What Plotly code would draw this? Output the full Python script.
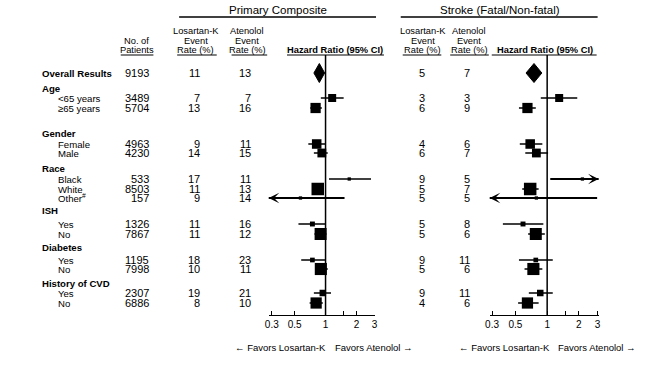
import math
import plotly.graph_objects as go

# ---------------- data ----------------
labels = ["Overall Results", "Age", "&lt;65 years", "≥65 years", "Gender", "Female", "Male",
          "Race", "Black", "White", "Other<sup>#</sup>", "ISH", "Yes", "No", "Diabetes", "Yes", "No",
          "History of CVD", "Yes", "No"]
row_kind = ["overall", "header", "sub", "sub", "header", "sub", "sub", "header", "sub", "sub", "sub",
            "header", "sub", "sub", "header", "sub", "sub", "header", "sub", "sub"]
patients = [9193, None, 3489, 5704, None, 4963, 4230, None, 533, 8503, 157, None, 1326, 7867,
            None, 1195, 7998, None, 2307, 6886]
pc_los = [11, None, 7, 13, None, 9, 14, None, 17, 11, 9, None, 11, 11, None, 18, 10, None, 19, 8]
pc_ate = [13, None, 7, 16, None, 11, 15, None, 11, 13, 14, None, 16, 12, None, 23, 11, None, 21, 10]
pc_hr = [0.87, None, 1.16, 0.80, None, 0.82, 0.92, None, 1.70, 0.84, 0.57, None, 0.745, 0.895,
         None, 0.745, 0.90, None, 0.94, 0.81]
pc_lo = [0.77, None, 0.90, 0.71, None, 0.68, 0.77, None, 1.08, 0.75, 0.20, None, 0.545, 0.78,
         None, 0.58, 0.80, None, 0.77, 0.70]
pc_hi = [0.98, None, 1.50, 0.92, None, 1.00, 1.05, None, 2.77, 0.94, 1.53, None, 1.00, 1.02,
         None, 1.00, 1.05, None, 1.13, 0.94]
st_los = [5, None, 3, 6, None, 4, 6, None, 9, 5, 5, None, 5, 5, None, 9, 5, None, 9, 4]
st_ate = [7, None, 3, 9, None, 6, 7, None, 5, 7, 5, None, 8, 6, None, 11, 6, None, 11, 6]
st_hr = [0.75, None, 1.30, 0.65, None, 0.69, 0.79, None, 2.16, 0.69, 0.79, None, 0.59, 0.78,
         None, 0.78, 0.74, None, 0.86, 0.65]
st_lo = [0.63, None, 0.87, 0.54, None, 0.55, 0.62, None, 1.07, 0.58, 0.20, None, 0.38, 0.66,
         None, 0.54, 0.61, None, 0.67, 0.53]
st_hi = [0.89, None, 1.93, 0.78, None, 0.90, 1.02, None, 4.00, 0.83, 2.98, None, 0.92, 0.95,
         None, 1.13, 0.90, None, 1.13, 0.83]
tick_vals = [0.3, 0.5, 1, 1.5, 2, 3]
tick_text = ["0.3", "0.5", "1", "", "2", "3"]

# ---------------- layout geometry (pixels) ----------------
W, H = 657, 368
AX_Y = 315                    # row of the hazard-ratio axes
HDR_Y = 55                    # header underline row
row_gaps = [73, 15, 10, 10, 25, 11, 9, 15, 11, 10, 9, 12, 14, 10, 13, 13, 9, 14, 10, 10]
row_y = []
cur = 0
for g in row_gaps:
    cur += g
    row_y.append(cur)

FONT = "Liberation Sans, Arial, sans-serif"
BLACK = "#000000"

# panel geometry: pixel of HR=1, pixels per decade, axis range
panels = [
    dict(xa="x", one=324.0, ppd=103.9, lo=0.28, hi=3.05),
    dict(xa="x2", one=548.0, ppd=106.5, lo=0.285, hi=3.08),
]
for p in panels:
    p["x0"] = p["one"] + math.log10(p["lo"]) * p["ppd"]
    p["x1"] = p["one"] + math.log10(p["hi"]) * p["ppd"]

fig = go.Figure()


def px(x):
    return x / W


def py(y):
    return (H - y) / H


annos = []


def text(x, y, s, size=10, anchor="center", bold=False, yref="y"):
    if bold:
        s = "<b>" + s + "</b>"
    yy = y if yref == "y" else py(y)
    annos.append(dict(x=px(x), y=yy, xref="paper", yref=yref, text=s, showarrow=False,
                      xanchor=anchor, yanchor="middle", borderpad=0, borderwidth=0,
                      font=dict(family=FONT, size=size, color=BLACK)))


shapes = []


def hline(x0, x1, y, w=1.2):
    shapes.append(dict(type="line", xref="paper", yref="y", x0=px(x0), x1=px(x1), y0=y, y1=y,
                       line=dict(color=BLACK, width=w)))


# titles
text(276, 10, "Primary Composite", size=11.5)
text(500, 10, "Stroke (Fatal/Non-fatal)", size=11.5)
hline(176, 375, 17, 1.5)
hline(400, 599, 17, 1.5)

# column headers
HS = 9.3
text(133, 40.5, "No. of", HS)
text(133, 50, "Patients", HS)
hline(117, 150, HDR_Y)
for cx, name in [(193, "Losartan-K"), (245, "Atenolol"), (422, "Losartan-K"), (469, "Atenolol")]:
    text(cx, 31, name, HS)
    text(cx, 40.5, "Event", HS)
    text(cx, 50, "Rate (%)", HS)
hline(174, 214, HDR_Y)
hline(229, 265, HDR_Y)
hline(402, 441, HDR_Y)
hline(450, 489, HDR_Y)
text(334, 50, "Hazard Ratio (95% CI)", 9.3, bold=True)
text(546, 50, "Hazard Ratio (95% CI)", 9.3, bold=True)
hline(285, 383, HDR_Y)
hline(492, 598, HDR_Y)

# row labels and numbers
NS = 11
for i, lab in enumerate(labels):
    y = row_y[i]
    if row_kind[i] == "sub":
        text(54, y, lab, 9.6, anchor="left")
    else:
        text(37, y, lab, 9.6, anchor="left", bold=True)
    if patients[i] is None:
        continue
    text(146, y, str(patients[i]), NS, anchor="right")
    text(197.5, y, str(pc_los[i]), NS, anchor="right")
    text(248.5, y, str(pc_ate[i]), NS, anchor="right")
    text(424.5, y, str(st_los[i]), NS, anchor="right")
    text(470.5, y, str(st_ate[i]), NS, anchor="right")

# forest plots
series = [(pc_hr, pc_lo, pc_hi), (st_hr, st_lo, st_hi)]
for p, (hr, lo, hi) in zip(panels, series):
    xa = p["xa"]
    # reference line at HR = 1
    fig.add_trace(go.Scatter(x=[1, 1], y=[HDR_Y, AX_Y], xaxis=xa, yaxis="y", mode="lines",
                             line=dict(color=BLACK, width=1.5), hoverinfo="skip", showlegend=False))
    for i in range(len(labels)):
        if hr[i] is None:
            continue
        y = row_y[i]
        if row_kind[i] == "overall":
            half = 9.5
            fig.add_trace(go.Scatter(x=[lo[i], hr[i], hi[i], hr[i], lo[i]],
                                     y=[y, y - half, y, y + half, y],
                                     xaxis=xa, yaxis="y", mode="lines", fill="toself",
                                     fillcolor=BLACK, line=dict(color=BLACK, width=1),
                                     hoverinfo="skip", showlegend=False))
            continue
        off_axis = lo[i] < p["lo"] or hi[i] > p["hi"]
        fig.add_trace(go.Scatter(x=[lo[i], hi[i]], y=[y, y], xaxis=xa, yaxis="y", mode="lines",
                                 line=dict(color=BLACK, width=2.0 if off_axis else 1.6),
                                 hoverinfo="skip", showlegend=False))
        size = max(3.3, 12.5 * math.sqrt(patients[i] / 8503))
        fig.add_trace(go.Scatter(x=[hr[i]], y=[y], xaxis=xa, yaxis="y", mode="markers",
                                 marker=dict(symbol="square", size=size, color=BLACK,
                                             line=dict(width=0)),
                                 hoverinfo="skip", showlegend=False, cliponaxis=False))
        # arrowheads for intervals running off the axis
        if lo[i] < p["lo"]:
            annos.append(dict(x=math.log10(p["lo"]), y=y, xref=xa, yref="y", text="",
                              showarrow=True, ax=9, ay=0, axref="pixel", ayref="pixel",
                              arrowhead=3, arrowsize=1.1, arrowwidth=1.6, arrowcolor=BLACK))
        if hi[i] > p["hi"]:
            annos.append(dict(x=math.log10(p["hi"]), y=y, xref=xa, yref="y", text="",
                              showarrow=True, ax=-9, ay=0, axref="pixel", ayref="pixel",
                              arrowhead=3, arrowsize=1.1, arrowwidth=1.6, arrowcolor=BLACK))

# favours labels
FY = 347
text(324.5, FY, "← Favors Losartan-K", 9.5, anchor="right", yref="paper")
text(334, FY, "Favors Atenolol →", 9.5, anchor="left", yref="paper")
text(551, FY, "← Favors Losartan-K", 9.5, anchor="right", yref="paper")
text(559, FY, "Favors Atenolol →", 9.5, anchor="left", yref="paper")

axis_common = dict(type="log", showline=True, linecolor=BLACK, linewidth=1.2, ticks="inside",
                   ticklen=4, tickwidth=1.2, tickcolor=BLACK, tickvals=tick_vals,
                   ticktext=tick_text, showgrid=False, zeroline=False, anchor="y",
                   tickfont=dict(family=FONT, size=10, color=BLACK), fixedrange=True)

fig.update_layout(
    width=W, height=H, autosize=False,
    margin=dict(l=0, r=0, t=0, b=0),
    paper_bgcolor="white", plot_bgcolor="rgba(0,0,0,0)",
    showlegend=False,
    xaxis=dict(domain=[px(panels[0]["x0"]), px(panels[0]["x1"])],
               range=[math.log10(panels[0]["lo"]), math.log10(panels[0]["hi"])], **axis_common),
    xaxis2=dict(domain=[px(panels[1]["x0"]), px(panels[1]["x1"])],
                range=[math.log10(panels[1]["lo"]), math.log10(panels[1]["hi"])], **axis_common),
    yaxis=dict(domain=[py(AX_Y), 1], range=[AX_Y, 0], visible=False, fixedrange=True),
    annotations=annos,
    shapes=shapes,
)

# place the figure flush with the page corner (no default body margin), no mode bar
fig.write_html("out.html", config={"displayModeBar": False},
               post_script="document.body.style.margin='0';document.body.style.overflow='hidden';")
